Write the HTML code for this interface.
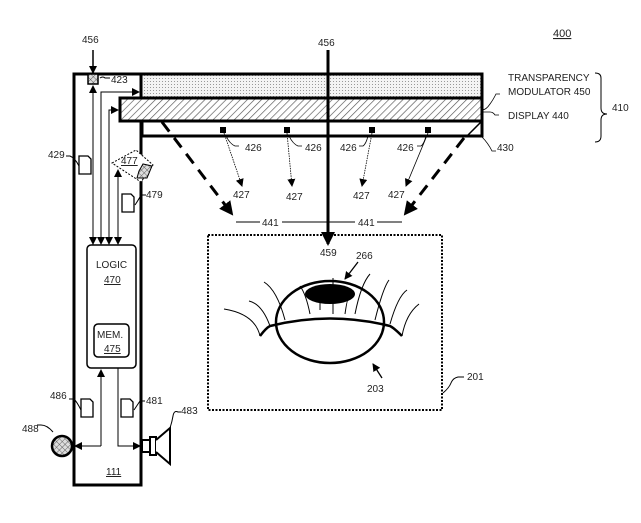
<!DOCTYPE html>
<html><head><style>html,body{margin:0;padding:0;background:#fff}svg{display:block}text{font-family:"Liberation Sans",sans-serif;font-size:10px;fill:#222}</style></head><body>
<svg width="641" height="523" viewBox="0 0 641 523" xmlns="http://www.w3.org/2000/svg">
<defs>
<pattern id="dots" width="3" height="3" patternUnits="userSpaceOnUse"><rect width="3" height="3" fill="#f4f4f4"/><rect width="1" height="1" fill="#999"/></pattern>
<pattern id="hatch" width="5" height="5" patternUnits="userSpaceOnUse" patternTransform="rotate(45)"><rect width="5" height="5" fill="#fff"/><line x1="0" y1="0" x2="0" y2="5" stroke="#555" stroke-width="1.3"/></pattern>
<pattern id="cross" width="4" height="4" patternUnits="userSpaceOnUse" patternTransform="rotate(45)"><rect width="4" height="4" fill="#ddd"/><path d="M0 0H4M0 0V4" stroke="#444" stroke-width="0.8"/></pattern>
<marker id="a" markerWidth="8" markerHeight="8" refX="7" refY="4" orient="auto" markerUnits="userSpaceOnUse"><path d="M0 0L8 4L0 8z" fill="#000"/></marker>
<marker id="big" markerWidth="14" markerHeight="14" refX="12" refY="7" orient="auto" markerUnits="userSpaceOnUse"><path d="M0 0L14 7L0 14z" fill="#000"/></marker>
</defs>
<text x="553" y="37" style="font-size:11px;text-decoration:underline">400</text>
<!-- left panel -->
<rect x="74" y="74" width="67" height="411" fill="none" stroke="#000" stroke-width="3"/>
<!-- modulator/display -->
<rect x="141" y="74" width="341" height="24" fill="url(#dots)" stroke="#000" stroke-width="3"/>
<rect x="120" y="98" width="362" height="23" fill="url(#hatch)" stroke="#000" stroke-width="3"/>
<path d="M142 121V136H482V121" fill="none" stroke="#000" stroke-width="3"/>
<path d="M467 136L481 122" stroke="#000" stroke-width="1.5"/>
<rect x="220" y="127" width="6" height="6"/><rect x="284" y="127" width="6" height="6"/><rect x="369" y="127" width="6" height="6"/><rect x="425" y="127" width="6" height="6"/>
<!-- 423 -->
<rect x="88" y="74" width="10" height="10" fill="url(#cross)" stroke="#000" stroke-width="1.5"/>
<line x1="93" y1="50" x2="93" y2="73" stroke="#000" stroke-width="1.5" marker-end="url(#a)"/>
<text x="82" y="43">456</text>
<path d="M100 78q3-2 5 0h5" fill="none" stroke="#000"/><text x="111" y="83">423</text>
<!-- vertical lines -->
<line x1="93" y1="245" x2="93" y2="86" stroke="#000" marker-end="url(#a)"/>
<line x1="93" y1="110" x2="93" y2="244" stroke="#000" marker-end="url(#a)"/>
<path d="M101 244V92H139" fill="none" stroke="#000" marker-end="url(#a)"/>
<path d="M109 244V110H118" fill="none" stroke="#000" marker-end="url(#a)"/>
<line x1="101" y1="120" x2="101" y2="244" stroke="#000" marker-end="url(#a)"/>
<line x1="109" y1="130" x2="109" y2="244" stroke="#000" marker-end="url(#a)"/>
<line x1="118" y1="244" x2="118" y2="170" stroke="#000" marker-end="url(#a)"/>
<line x1="118" y1="180" x2="118" y2="244" stroke="#000" marker-end="url(#a)"/>
<!-- 477 diamond -->
<path d="M112 163L136 150L153 165L141 182Z" fill="#fff" stroke="#000" stroke-dasharray="2,1.5"/>
<text x="121" y="164" style="text-decoration:underline">477</text>
<path d="M139 171L143 164L152 166L147 178L137 178Z" fill="url(#cross)" stroke="#000"/>
<!-- docs -->
<g fill="#fff" stroke="#000" stroke-width="1.3">
<path d="M79 156h9l3 3v15h-12z"/><path d="M122 194h9l3 3v15h-12z"/><path d="M81 399h9l3 3v15h-12z"/><path d="M121 399h9l3 3v15h-12z"/>
</g>
<path d="M79 166q-4-8-9-10h-4" fill="none" stroke="#000"/><text x="48" y="158">429</text>
<path d="M135 205q4-6 6-10h5" fill="none" stroke="#000"/><text x="146" y="198">479</text>
<path d="M81 410q-4-8-7-11h-5" fill="none" stroke="#000"/><text x="50" y="399">486</text>
<path d="M134 410q4-6 6-9h5" fill="none" stroke="#000"/><text x="146" y="404">481</text>
<!-- logic -->
<rect x="87" y="245" width="49" height="123" rx="4" fill="#fff" stroke="#000" stroke-width="1.5"/>
<text x="96" y="268">LOGIC</text><text x="104" y="283" style="text-decoration:underline">470</text>
<rect x="94" y="324" width="35" height="33" rx="4" fill="#fff" stroke="#000" stroke-width="1.5"/>
<text x="97" y="338">MEM.</text><text x="104" y="352" style="text-decoration:underline">475</text>
<line x1="101" y1="446" x2="101" y2="370" stroke="#000" marker-end="url(#a)"/>
<line x1="101" y1="446" x2="75" y2="446" stroke="#000" marker-end="url(#a)"/>
<path d="M118 368V446H140" fill="none" stroke="#000" marker-end="url(#a)"/>
<circle cx="62" cy="446" r="10" fill="url(#cross)" stroke="#000" stroke-width="2.5"/>
<path d="M53 432q-6-7-12-7h-4" fill="none" stroke="#000"/><text x="22" y="432">488</text>
<rect x="142" y="440" width="8" height="12" fill="#fff" stroke="#000" stroke-width="2"/>
<rect x="150" y="437" width="6" height="18" fill="#fff" stroke="#000" stroke-width="2"/>
<path d="M156 440L170 428V464L156 452" fill="#fff" stroke="#000" stroke-width="2"/>
<path d="M170 428q2-6 3-12t5-4h3" fill="none" stroke="#000"/><text x="181" y="414">483</text>
<text x="106" y="475" style="text-decoration:underline">111</text>
<!-- dashed arrows -->
<line x1="162" y1="122" x2="232" y2="214" stroke="#000" stroke-width="3" stroke-dasharray="12,8" marker-end="url(#big)"/>
<line x1="464" y1="138" x2="405" y2="214" stroke="#000" stroke-width="3" stroke-dasharray="12,8" marker-end="url(#big)"/>
<path d="M236 222H260M282 222H355M377 222H402" stroke="#000"/>
<text x="262" y="226">441</text><text x="358" y="226">441</text>
<!-- 426/427 -->
<g stroke="#000" stroke-width="0.8" fill="none">
<line x1="224" y1="133" x2="242" y2="186" marker-end="url(#a)" stroke-dasharray="1.5,1"/>
<line x1="287" y1="133" x2="292" y2="186" marker-end="url(#a)" stroke-dasharray="1.5,1"/>
<line x1="372" y1="133" x2="362" y2="186" marker-end="url(#a)" stroke-dasharray="1.5,1"/>
<line x1="428" y1="133" x2="406" y2="186" marker-end="url(#a)"/>
<path d="M226 136q4 8 9 10h4"/><path d="M289 136q4 8 9 10h4"/><path d="M368 136q-2 8-5 10h-4"/><path d="M426 136q-2 8-5 10h-4"/>
<path d="M482 137q6 6 10 14h4"/>
<path d="M482 110q4 0 8-6q3-4 6-10h4"/><path d="M482 112h8q3 0 5 3h4"/>
<path d="M595 73q6 0 6 5v30q0 6 6 6q-6 0-6 6v16q0 6-6 6" stroke-width="1"/>
</g>
<text x="245" y="151">426</text><text x="305" y="151">426</text><text x="340" y="151">426</text><text x="397" y="151">426</text>
<text x="233" y="198">427</text><text x="286" y="200">427</text><text x="353" y="199">427</text><text x="388" y="198">427</text>
<text x="497" y="151">430</text>
<text x="508" y="81">TRANSPARENCY</text><text x="508" y="95">MODULATOR 450</text><text x="508" y="119">DISPLAY 440</text>
<text x="612" y="111">410</text>
<!-- center arrow -->
<text x="318" y="46">456</text>
<line x1="328" y1="50" x2="328" y2="244" stroke="#000" stroke-width="3" marker-end="url(#big)"/>
<!-- eye box -->
<rect x="208" y="235" width="234" height="175" fill="none" stroke="#000" stroke-width="2" stroke-dasharray="2,1.5"/>
<line x1="328" y1="50" x2="328" y2="238" stroke="#000" stroke-width="3"/>
<text x="320" y="256">459</text><text x="356" y="259">266</text>
<line x1="358" y1="262" x2="345" y2="279" stroke="#000" stroke-width="1.3" marker-end="url(#a)"/>
<text x="367" y="392">203</text>
<line x1="382" y1="378" x2="373" y2="364" stroke="#000" stroke-width="1.3" marker-end="url(#a)"/>
<path d="M443 393q6-5 8-10t7-6h6" fill="none" stroke="#000"/><text x="467" y="380">201</text>
<g fill="none" stroke="#000">
<ellipse cx="330" cy="322" rx="54" ry="41" stroke-width="2.5"/>
<path d="M260 336q6-8 10-10q60-15 120 0q4 2 12 10" stroke-width="2.5"/>
<path d="M260 336q-5-22-36-27M270 326q-8-22-21-25M285 320q-8-30-21-38M310 314q-4-20-10-28M320 310v-16M333 314v-36M345 314q2-14 3-14M355 314q6-30 15-40M375 320q8-32 14-40M390 324q8-28 17-34M402 336q4-22 17-32"/>
</g>
<ellipse cx="330" cy="294" rx="25" ry="10" fill="#000"/>
</svg>
</body></html>
